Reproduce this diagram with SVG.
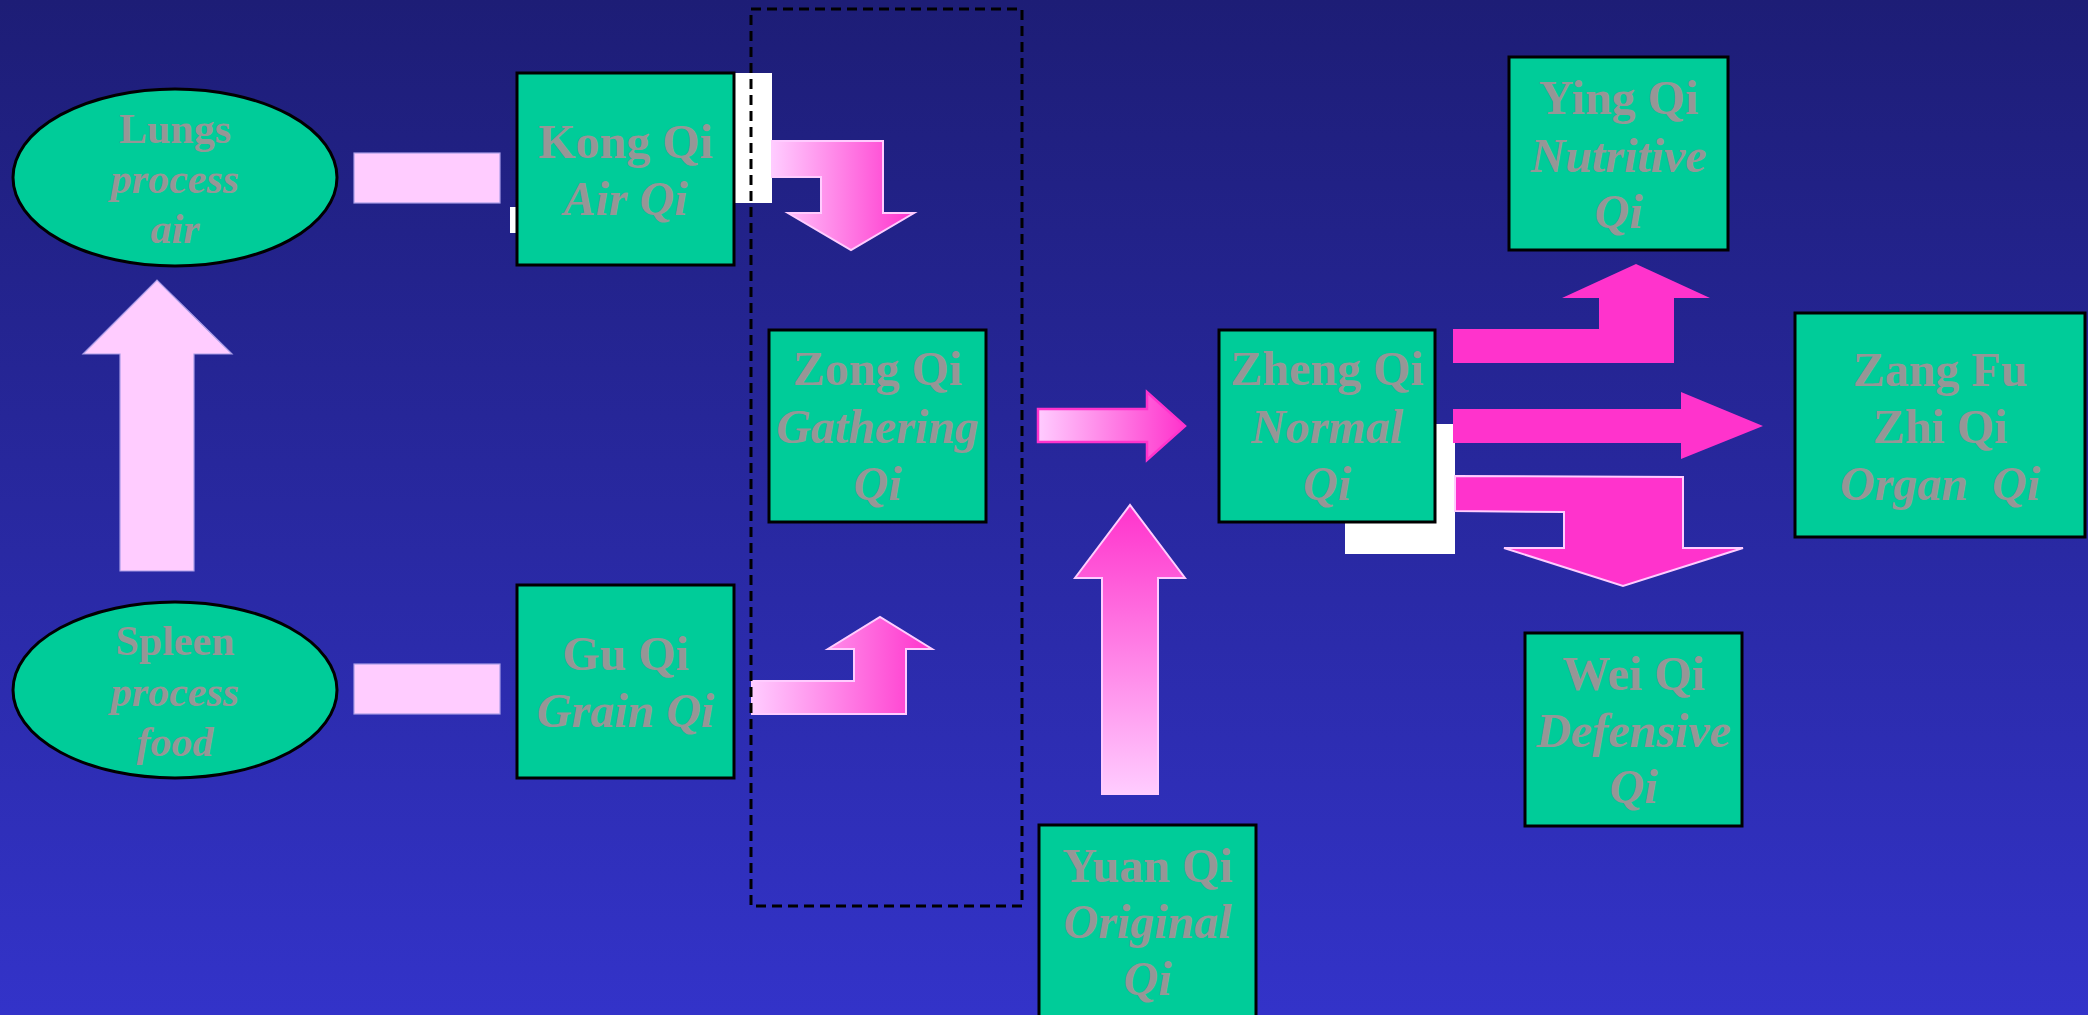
<svg xmlns="http://www.w3.org/2000/svg" width="2088" height="1015" viewBox="0 0 2088 1015">
<defs>
<linearGradient id="bg" x1="0" y1="0" x2="0" y2="1">
<stop offset="0" stop-color="#1d1d76"/>
<stop offset="1" stop-color="#3333c9"/>
</linearGradient>
<linearGradient id="gh" x1="0" y1="0" x2="1" y2="0">
<stop offset="0" stop-color="#ffccff"/>
<stop offset="1" stop-color="#ff33cc"/>
</linearGradient>
<linearGradient id="gv" x1="0" y1="0" x2="0" y2="1">
<stop offset="0" stop-color="#ff33cc"/>
<stop offset="1" stop-color="#ffccff"/>
</linearGradient>
<style>
.node{fill:#00cc99;stroke:#000;stroke-width:3}
.t{font-family:"Liberation Serif","Times New Roman",serif;font-weight:bold;fill:#969696;text-anchor:middle;font-size:48px}
.e{font-size:42px}
.i{font-style:italic}
.lp{fill:#ffccff;stroke:#a89ce6;stroke-width:1.2}
.wh{fill:#ffffff}
.ga{fill:url(#gh);stroke:#ffccff;stroke-width:2}
.gva{fill:url(#gv);stroke:#ffccff;stroke-width:2}
.mg{fill:#ff33cc}
.mgs{fill:#ff33cc;stroke:#ffccff;stroke-width:2}
</style>
</defs>
<rect width="2088" height="1015" fill="url(#bg)"/>

<g id="connectors">
<rect class="wh" x="734" y="73" width="38" height="130"/>
<rect class="wh" x="510" y="207" width="6" height="26"/>
<rect class="wh" x="1345" y="424" width="110" height="130"/>
<rect class="lp" x="354" y="153" width="146" height="50"/>
<rect class="lp" x="354" y="664" width="146" height="50"/>
<path class="lp" d="M120,571 L120,354 L83,354 L157,280 L232,354 L194,354 L194,571 Z"/>
<path class="ga" d="M772,141 L883,141 L883,213 L914,213 L851,250 L788,213 L821,213 L821,177 L772,177 Z"/>
<path class="ga" d="M752,681 L854,681 L854,649 L828,649 L880,617 L932,649 L906,649 L906,714 L752,714 Z"/>
<path d="M1038,409 L1147,409 L1147,392 L1185,426 L1147,460 L1147,442 L1038,442 Z" fill="url(#gh)" stroke="#ff33cc" stroke-width="2.5"/>
<path class="gva" d="M1102,794 L1102,578 L1075,578 L1130,505 L1185,578 L1158,578 L1158,794 Z"/>
<path class="mg" d="M1453,329 L1599,329 L1599,298 L1562,298 L1636,264 L1710,298 L1674,298 L1674,363 L1453,363 Z"/>
<path class="mg" d="M1453,409 L1681,409 L1681,392 L1763,426 L1681,459 L1681,443 L1453,443 Z"/>
<path class="mgs" d="M1455,476 L1683,477 L1683,548 L1743,548 L1623,586 L1504,548 L1564,548 L1564,512 L1455,511 Z"/>
</g>

<g id="lungs">
<ellipse class="node" cx="175" cy="177.5" rx="162" ry="88.5"/>
<text class="t e" x="175" y="143">Lungs</text>
<text class="t e i" x="175" y="193">process</text>
<text class="t e i" x="175" y="243">air</text>
</g>
<g id="spleen">
<ellipse class="node" cx="175" cy="690" rx="162" ry="88"/>
<text class="t e" x="175" y="655">Spleen</text>
<text class="t e i" x="175" y="706">process</text>
<text class="t e i" x="175" y="756">food</text>
</g>
<g id="kong-qi">
<rect class="node" x="517" y="73" width="217" height="192"/>
<text class="t" x="625.5" y="158">Kong Qi</text>
<text class="t i" x="625.5" y="215">Air Qi</text>
</g>
<g id="gu-qi">
<rect class="node" x="517" y="585" width="217" height="193"/>
<text class="t" x="625.5" y="670">Gu Qi</text>
<text class="t i" x="625.5" y="727">Grain Qi</text>
</g>
<g id="zong-qi">
<rect class="node" x="769" y="330" width="217" height="192"/>
<text class="t" x="877.5" y="385">Zong Qi</text>
<text class="t i" x="877.5" y="443">Gathering</text>
<text class="t i" x="877.5" y="500">Qi</text>
</g>
<g id="zheng-qi">
<rect class="node" x="1219" y="330" width="216" height="192"/>
<text class="t" x="1327" y="385">Zheng Qi</text>
<text class="t i" x="1327" y="443">Normal</text>
<text class="t i" x="1327" y="500">Qi</text>
</g>
<g id="ying-qi">
<rect class="node" x="1509" y="57" width="219" height="193"/>
<text class="t" x="1618.5" y="114">Ying Qi</text>
<text class="t i" x="1618.5" y="172">Nutritive</text>
<text class="t i" x="1618.5" y="228">Qi</text>
</g>
<g id="zang-fu-zhi-qi">
<rect class="node" x="1795" y="313" width="290" height="224"/>
<text class="t" x="1940" y="386">Zang Fu</text>
<text class="t" x="1940" y="443">Zhi Qi</text>
<text class="t i" x="1940" y="500" xml:space="preserve">Organ  Qi</text>
</g>
<g id="wei-qi">
<rect class="node" x="1525" y="633" width="217" height="193"/>
<text class="t" x="1633.5" y="690">Wei Qi</text>
<text class="t i" x="1633.5" y="747">Defensive</text>
<text class="t i" x="1633.5" y="803">Qi</text>
</g>
<g id="yuan-qi">
<rect class="node" x="1039" y="825" width="217" height="200"/>
<text class="t" x="1147.5" y="882">Yuan Qi</text>
<text class="t i" x="1147.5" y="938">Original</text>
<text class="t i" x="1147.5" y="995">Qi</text>
</g>

<g id="zong-qi-group">
<rect x="751" y="9" width="271" height="897" fill="none" stroke="#000" stroke-width="3" stroke-dasharray="10,6"/>
</g>
</svg>
